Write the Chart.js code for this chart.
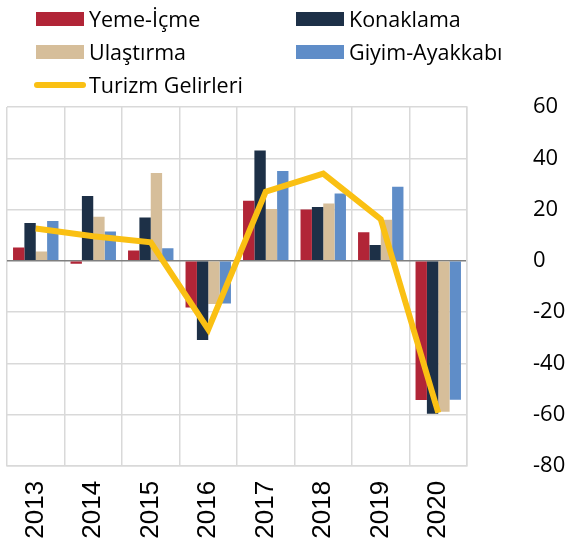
<!DOCTYPE html>
<html>
<head>
<meta charset="utf-8">
<script src="https://cdn.jsdelivr.net/npm/chart.js@4/dist/chart.umd.min.js"></script>
<style>
  html, body { margin: 0; padding: 0; background: #fff; }
  #wrap { position: relative; width: 571px; height: 545px; }
  #legend { position: absolute; left: 0; top: 0; width: 571px; height: 100px;
            font-family: "Open Sans", sans-serif; font-size: 21.5px; color: #000; }
  .item { position: absolute; height: 28px; line-height: 28px; white-space: nowrap; }
  .box { position: absolute; left: 0; top: 7px; width: 48px; height: 14px; }
  .ln { position: absolute; left: -2px; top: 11px; width: 52px; height: 6px; border-radius: 3px; }
  .lbl { position: absolute; left: 53px; top: 0; }
</style>
</head>
<body>
<div id="wrap">
  <canvas id="chart" width="571" height="545"></canvas>
  <div id="legend"></div>
</div>
<script>
var years = ['2013', '2014', '2015', '2016', '2017', '2018', '2019', '2020'];
var yemeIcme = [5.2, -1.2, 4.0, -18.2, 23.4, 20.0, 11.1, -54.3];
var konaklama = [14.7, 25.3, 16.9, -30.9, 43.0, 21.0, 6.2, -59.7];
var ulastirma = [3.6, 17.2, 34.2, -16.9, 20.2, 22.3, 16.0, -58.9];
var giyimAyakkabi = [15.5, 11.4, 4.9, -16.7, 35.0, 26.2, 28.9, -54.2];
var turizmGelirleri = [12.6, 9.6, 7.2, -26.8, 27.0, 34.0, 16.2, -59.3];

var colors = {
    yeme: '#B12537',
    konak: '#1D3047',
    ulas: '#D6BE9A',
    giyim: '#5F8DC8',
    turizm: '#FAC013'
};

// legend in two columns, like the original
var legendItems = [
    { text: 'Yeme-İçme', color: colors.yeme, x: 36, y: 5, type: 'box' },
    { text: 'Konaklama', color: colors.konak, x: 296, y: 5, type: 'box' },
    { text: 'Ulaştırma', color: colors.ulas, x: 36, y: 38, type: 'box' },
    { text: 'Giyim-Ayakkabı', color: colors.giyim, x: 296, y: 38, type: 'box' },
    { text: 'Turizm Gelirleri', color: colors.turizm, x: 36, y: 71, type: 'line' }
];
var legend = document.getElementById('legend');
legendItems.forEach(function (it) {
    var d = document.createElement('div');
    d.className = 'item';
    d.style.left = it.x + 'px';
    d.style.top = it.y + 'px';
    var m = document.createElement('span');
    m.className = it.type === 'box' ? 'box' : 'ln';
    m.style.background = it.color;
    var t = document.createElement('span');
    t.className = 'lbl';
    t.textContent = it.text;
    d.appendChild(m);
    d.appendChild(t);
    legend.appendChild(d);
});

function barSet(label, data, color) {
    return {
        type: 'bar',
        label: label,
        data: data,
        backgroundColor: color,
        borderWidth: 0,
        categoryPercentage: 0.79,
        barPercentage: 1.0,
        order: 1
    };
}

var ctx = document.getElementById('chart').getContext('2d');
var myChart = new Chart(ctx, {
    data: {
        labels: years,
        datasets: [
            barSet('Yeme-İçme', yemeIcme, colors.yeme),
            barSet('Konaklama', konaklama, colors.konak),
            barSet('Ulaştırma', ulastirma, colors.ulas),
            barSet('Giyim-Ayakkabı', giyimAyakkabi, colors.giyim),
            {
                type: 'line',
                label: 'Turizm Gelirleri',
                data: turizmGelirleri,
                borderColor: colors.turizm,
                backgroundColor: colors.turizm,
                borderWidth: 6,
                pointRadius: 0,
                tension: 0,
                order: 0
            }
        ]
    },
    options: {
        responsive: false,
        animation: false,
        layout: { padding: { top: 107, left: 7, right: 4, bottom: 0 } },
        plugins: {
            legend: { display: false },
            tooltip: { enabled: false }
        },
        scales: {
            x: {
                offset: true,
                afterFit: function (scale) { scale.height = 78; },
                grid: { offset: true, color: '#D9D9D9', lineWidth: 1.5, drawTicks: false },
                border: { color: '#D9D9D9', width: 1.5 },
                ticks: {
                    minRotation: 90,
                    maxRotation: 90,
                    padding: 15,
                    color: '#000',
                    font: { family: 'Liberation Sans', size: 26 }
                }
            },
            y: {
                position: 'right',
                min: -80,
                max: 60,
                afterFit: function (scale) { scale.width = 100; },
                grid: {
                    drawTicks: false,
                    lineWidth: 1.5,
                    color: function (c) { return c.tick && c.tick.value === 0 ? '#7F7F7F' : '#D9D9D9'; }
                },
                border: { display: true, color: '#D9D9D9', width: 1.5 },
                ticks: {
                    stepSize: 20,
                    padding: 66,
                    color: '#000',
                    font: { family: 'Open Sans', size: 22 }
                }
            }
        }
    }
});
</script>
</body>
</html>
